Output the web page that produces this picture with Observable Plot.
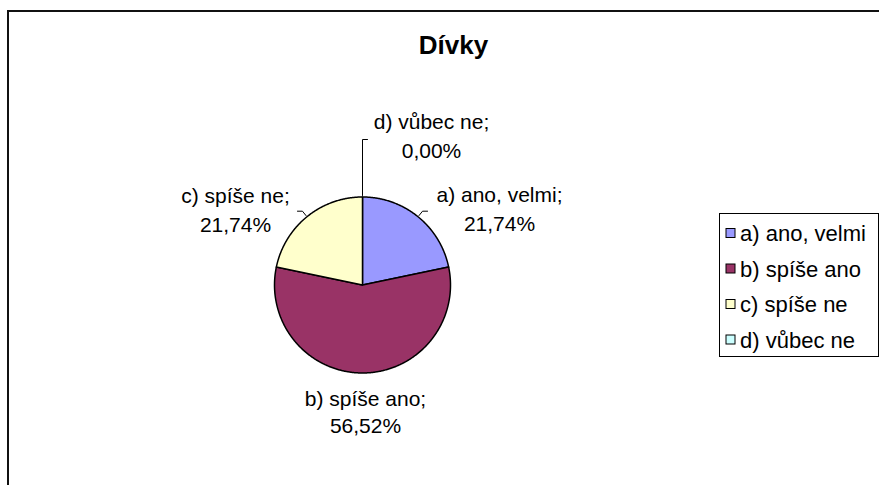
<!DOCTYPE html>
<html><head><meta charset="utf-8">
<script src="https://cdn.jsdelivr.net/npm/d3@7"></script>
<script src="https://cdn.jsdelivr.net/npm/@observablehq/plot@0.6"></script>
<style>html,body{margin:0;padding:0;background:#fff;}</style>
</head><body><div id="chart"></div>
<script>
// ---- data ----
const title = "Dívky";
const categories = ["a) ano, velmi", "b) spíše ano", "c) spíše ne", "d) vůbec ne"];
const shares = [21.74, 56.52, 21.74, 0.00];
const shareLabels = ["21,74%", "56,52%", "21,74%", "0,00%"];
const sliceColors = ["#9999FF", "#993366", "#FFFFCC", "#CCFFFF"];

// ---- layout (pixels) ----
const W = 879, H = 485;
const CX = 362, CY = 284.5, R = 88;
const labelX = [499, 365, 235, 431];
const labelBase1 = [201, 405, 202, 128];
const labelGap = [29.5, 27.5, 29, 29];
const leaderElbowY = [210.7, null, 210.7, 139];
const leaderDir = [1, 0, -1, 1];
const legendBox = {x1: 719.5, x2: 878.5, y1: 213.5, y2: 356.5};
const legendRowY = [233, 268.5, 304, 339.5];
const legendSqX = 726, legendSq = 9, legendTextX = 739.5;
const fontFamily = "'Liberation Sans', Arial, Helvetica, sans-serif";

const rows = categories.map((c, i) => ({cat: c, share: shares[i], label: shareLabels[i], i}));
const arcs = d3.pie().sort(null).value(d => d.share).startAngle(0).endAngle(2 * Math.PI)(rows);

const px = a => CX + R * Math.sin(a);
const py = a => CY - R * Math.cos(a);

// slice polygons
const slicePts = [];
for (const a of arcs) {
  if (a.endAngle - a.startAngle <= 0) continue;
  const cat = a.data.cat;
  slicePts.push({cat, x: CX, y: CY});
  const n = Math.max(2, Math.ceil((a.endAngle - a.startAngle) / (Math.PI / 360)));
  for (let k = 0; k <= n; k++) {
    const t = a.startAngle + (a.endAngle - a.startAngle) * k / n;
    slicePts.push({cat, x: px(t), y: py(t)});
  }
}

// leader lines
const leaderPts = [];
arcs.forEach((a, i) => {
  if (leaderElbowY[i] == null) return;
  const m = (a.startAngle + a.endAngle) / 2;
  const s = Math.sin(m), c = Math.cos(m);
  const r0 = R + 1.5;
  const p0 = {x: CX + r0 * s, y: CY - r0 * c};
  const t = (CY - leaderElbowY[i]) / c;
  const p1 = {x: CX + t * s, y: leaderElbowY[i]};
  const p2 = {x: p1.x + 5 * leaderDir[i], y: p1.y};
  [p0, p1, p2].forEach(p => leaderPts.push({cat: a.data.cat, ...p}));
});

const labelRows = rows.map((d, i) => ({
  ...d, x: labelX[i], y1: labelBase1[i], y2: labelBase1[i] + labelGap[i]
}));

const legendRows = rows.map((d, i) => ({...d, y: legendRowY[i]}));

const chart = Plot.plot({
  width: W, height: H,
  margin: 0,
  x: {domain: [0, W], range: [0, W], axis: null},
  y: {domain: [0, H], range: [0, H], axis: null},
  color: {domain: categories, range: sliceColors},
  style: {fontFamily, fontSize: "21px", background: "#fff", color: "#000", overflow: "hidden"},
  marks: [
    // chart border
    Plot.rect([0], {x1: () => 8, y1: () => 11, x2: () => W + 20, y2: () => H + 20, fill: "none", stroke: "#111", strokeWidth: 2}),
    // title
    Plot.text([title], {x: () => 453, y: () => 53, text: d => d, fontSize: 26, fontWeight: "bold", letterSpacing: 1.5, lineAnchor: "bottom", textAnchor: "middle"}),
    // pie
    Plot.line(slicePts, {x: "x", y: "y", z: "cat", fill: "cat", stroke: "#000", strokeWidth: 1.5, curve: "linear-closed", strokeLinejoin: "round"}),
    // leaders
    Plot.line(leaderPts, {x: "x", y: "y", z: "cat", stroke: "#000", strokeWidth: 1}),
    // labels
    Plot.text(labelRows, {x: "x", y: "y1", text: d => d.cat + ";", textAnchor: "middle", lineAnchor: "bottom", fontSize: 21, letterSpacing: 0.8}),
    Plot.text(labelRows, {x: "x", y: "y2", text: "label", textAnchor: "middle", lineAnchor: "bottom", fontSize: 21, letterSpacing: 0.8}),
    // legend
    Plot.rect([legendBox], {x1: "x1", x2: "x2", y1: "y1", y2: "y2", fill: "#fff", stroke: "#000", strokeWidth: 1}),
    Plot.rect(legendRows, {x1: () => legendSqX, x2: () => legendSqX + legendSq, y1: d => d.y - legendSq / 2, y2: d => d.y + legendSq / 2, fill: "cat", stroke: "#000", strokeWidth: 1}),
    Plot.text(legendRows, {x: () => legendTextX, y: d => d.y + 7.5, text: "cat", textAnchor: "start", lineAnchor: "bottom", fontSize: 22, letterSpacing: 0.6})
  ]
});
document.getElementById("chart").appendChild(chart);
</script>
</body></html>
